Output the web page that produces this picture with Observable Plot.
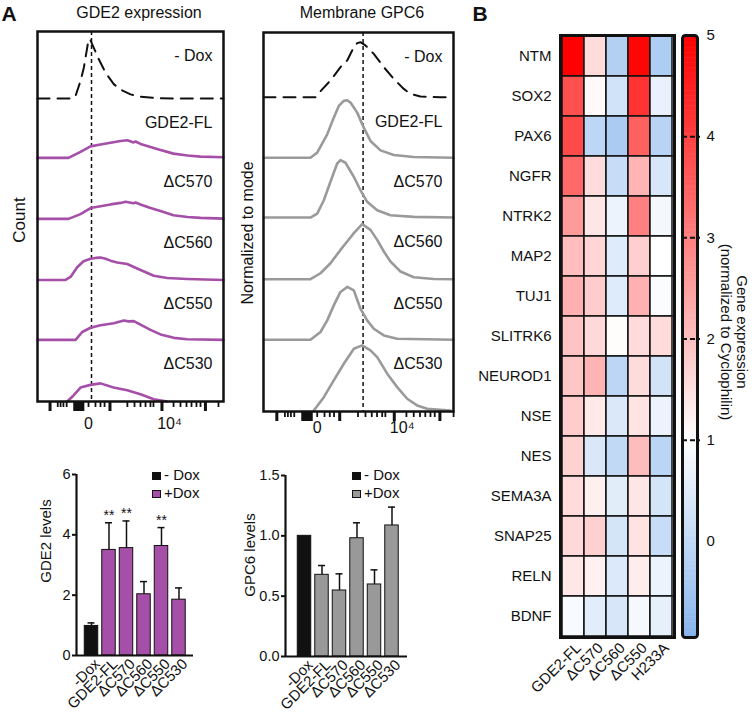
<!DOCTYPE html>
<html><head><meta charset="utf-8">
<script src="https://cdn.jsdelivr.net/npm/d3@7"></script>
<script src="https://cdn.jsdelivr.net/npm/@observablehq/plot@0.6"></script>
<style>
body{margin:0;background:#fff;font-family:"Liberation Sans",Arial,Helvetica,sans-serif;color:#111;}
#root{position:relative;width:755px;height:717px;overflow:hidden;background:#fff;}
.box{position:absolute;}
.lbl{position:absolute;white-space:nowrap;color:#111;line-height:1;}
</style></head><body><div id="root"></div>
<script>
// ---------------- DATA ----------------
const histSamples = ["- Dox", "GDE2-FL", "ΔC570", "ΔC560", "ΔC550", "ΔC530"];
// x: display units (0 = tick "0", 100 = tick "10⁴"); y: count (100 = one row)
const gde2Dox  = [[-63,0],[-19.8,0],[-16,4.5],[-9.9,29],[-5.8,51],[-0.9,90],[1.6,99],[6.5,84],[12.7,65],[21,43],[31.2,24],[39.5,15],[51.9,7],[64.2,3.3],[85.2,0.5],[166.7,0]];
const gde2FL   = [[-63,0],[-24.7,0],[-9.9,10],[2.5,19],[14.8,22],[27.2,25],[39.5,28],[48.1,29],[55.6,25.5],[58,27],[64.2,23],[76.5,18],[88.9,13],[104.9,7],[122.2,4],[138.3,2],[166.7,1]];
const gde2C570 = [[-63,0],[-24.7,0],[-9.9,8],[2.5,18],[14.8,21],[27.2,24],[39.5,26.5],[45.7,28.5],[55.6,26],[58,27],[64.2,24],[76.5,18],[88.9,13],[104.9,6],[122.2,3.3],[138.3,1.7],[166.7,0.5]];
const gde2C560 = [[-63,0],[-28.4,0],[-22.2,5],[-14,21],[-6.2,31],[2.5,35],[8.6,36.5],[14.8,37],[21,35],[27.2,32],[35.4,29],[47.8,26.5],[64.2,16.5],[80.6,7],[97.2,3.3],[121.9,1.7],[166.7,0]];
const gde2C550 = [[-63,0],[-16,0],[-7.8,13],[2.5,20],[14.8,24],[31.2,27.5],[43.6,32],[49.4,30.5],[55.9,31],[64.2,25],[76.5,16.5],[88.9,9],[105.3,3.3],[121.9,1],[166.7,0]];
const gde2C530 = [[-26.3,0],[-18.5,10],[-9.9,23],[2.5,27.5],[14.8,30],[30.9,23],[47.8,18.7],[64.2,12],[80.6,3.8],[97.2,0]];

const gpc6Dox  = [[-63.2,0],[-2,0],[3.9,10],[15.6,27.6],[27.4,49.7],[35.3,60.8],[43.1,82.8],[47.1,89.4],[50.9,91],[56.8,85.6],[66.6,71.7],[78.4,49.7],[90.1,30.3],[101.9,13.7],[109.8,5.5],[121.5,1.2],[145.1,0],[160.4,0]];
const gpc6FL   = [[-63.2,0],[-7.9,0],[0,8.3],[11.8,38.6],[19.5,66.2],[25.4,85.6],[31.3,93.9],[35.3,94.9],[39.2,91.1],[47.1,74.5],[54.8,49.7],[62.7,27.7],[74.5,12.1],[90.1,4.5],[113.6,1.2],[160.4,0]];
const gpc6C570 = [[-63.2,0],[-7.9,0],[0,6.6],[7.8,28.6],[15.6,59.1],[23.5,89.4],[27.4,94.9],[33.3,90.6],[43.1,67.4],[50.9,45.2],[58.8,26],[70.6,12.1],[86.2,3.8],[113.6,1.2],[160.4,0]];
const gpc6C560 = [[-63.2,0],[-7.9,0],[3.9,9.9],[15.6,26.5],[27.4,48.5],[35.3,62.4],[43.1,76.2],[52.9,91.1],[62.7,81.6],[70.6,65.1],[78.4,45.9],[86.2,29.3],[98,12.8],[113.6,3.3],[137.2,0.5],[160.4,0]];
const gpc6C550 = [[-63.2,0],[-7.9,0],[3.9,12.8],[11.8,32],[19.5,56.8],[27.4,79],[35.3,87.3],[43.1,81.6],[50.9,51.3],[58.8,32],[66.6,18.2],[78.4,7.1],[94.1,1.7],[160.4,0]];
const gpc6C530 = [[-4,0],[7.8,22],[19.5,49.7],[31.3,77.3],[43.1,102.2],[52.9,107.6],[62.7,99.4],[70.6,88.3],[82.4,60.8],[94.1,38.6],[105.9,19.4],[117.6,8.3],[129.4,2.8],[156.8,0]];

const gateGDE2 = 3.7;
const gateGPC6 = 54;
const histTickValues = [0, 100];
const histTickLabels = ["0", "10⁴"];
const histMajorTicks = [-47.5, -17, -14.5, -12, -9.5, -7, 26.5, 90.7, 144.4];
const histMinorTicks = [-38, -34.5, -31, -27, 0, 8.6, 14.8, 19.8, 48, 56.8, 64.2, 70.4, 76.5, 80.2, 105, 113.6, 121, 127.2, 133.3, 138.3, 160.5];

const barCategories = ["-Dox", "GDE2-FL", "ΔC570", "ΔC560", "ΔC550", "ΔC530"];
const gde2Levels = [0.98, 3.5, 3.56, 2.03, 3.63, 1.85];
const gde2Sem    = [0.1, 0.9, 0.9, 0.42, 0.61, 0.39];
const gde2Sig    = ["", "**", "**", "", "**", ""];
const gpc6Levels = [1.0, 0.677, 0.547, 0.98, 0.597, 1.086];
const gpc6Sem    = [0, 0.077, 0.138, 0.128, 0.121, 0.152];
const gpc6Sig    = ["", "", "", "", "", ""];
const gde2Ticks = [0, 2, 4, 6];
const gpc6Ticks = [0, 0.5, 1.0, 1.5];

const genes = ["NTM","SOX2","PAX6","NGFR","NTRK2","MAP2","TUJ1","SLITRK6","NEUROD1","NSE","NES","SEMA3A","SNAP25","RELN","BDNF"];
const heatSamples = ["GDE2-FL", "ΔC570", "ΔC560", "ΔC550", "H233A"];
const exprGDE2FL = [5.0, 3.75, 3.84, 3.35, 2.58, 2.04, 2.24, 1.94, 1.9, 1.8, 1.7, 1.57, 1.6, 1.38, 0.87];
const exprC570   = [1.55, 1.1, -0.07, 1.55, 1.4, 1.66, 1.8, 1.6, 2.17, 1.35, 0.38, 1.24, 1.74, 1.22, 0.53];
const exprC560   = [-0.23, 0.26, -0.34, 0.1, 0.69, 0.47, 0.47, 1.05, -0.07, 0.4, 0.0, 0.53, 0.33, 0.44, 0.36];
const exprC550   = [4.9, 4.2, 3.5, 2.16, 3.0, 1.76, 2.24, 1.56, 1.55, 1.42, 2.05, 1.4, 1.45, 1.3, 0.84];
const exprH233A  = [-0.3, 0.65, -0.15, 0.36, 0.82, 1.0, 0.93, 1.55, 0.27, 0.7, -0.1, 0.33, 0.1, 0.68, 0.6];
const colorbarTicks = [0, 1, 2, 3, 4, 5];
const colorDomain = [-0.95, 1, 5];
const colorRange = ["#86b4ec", "#ffffff", "#ff0000"];

// ---------------- LAYOUT / STYLE ----------------
const FONT = '"Liberation Sans", Arial, Helvetica, sans-serif';
const INK = "#111";
const PURPLE = "#a54fa8";
const GREY = "#9a9a9a";
const root = document.getElementById("root");
const baseStyle = {fontFamily: FONT, background: "transparent", overflow: "visible", color: INK};

function place(node, left, top, w, h) {
  const d = document.createElement("div");
  d.className = "box";
  d.style.left = left + "px"; d.style.top = top + "px";
  d.style.width = w + "px"; d.style.height = h + "px";
  d.appendChild(node); root.appendChild(d); return d;
}
function label(text, cx, cy, {size = 16, weight = "normal", rotate = 0} = {}) {
  const d = document.createElement("div");
  d.className = "lbl";
  d.textContent = text;
  d.style.left = cx + "px"; d.style.top = cy + "px";
  d.style.fontSize = size + "px"; d.style.fontWeight = weight;
  d.style.transform = `translate(-50%,-50%) rotate(${rotate}deg)`;
  root.appendChild(d); return d;
}
function legendItem(x, cy, fill, text) {
  const s = document.createElement("div");
  s.className = "box";
  s.style.left = x + "px"; s.style.top = (cy - 3.5) + "px";
  s.style.width = "7px"; s.style.height = "6px";
  s.style.background = fill; s.style.border = "1px solid " + INK;
  root.appendChild(s);
  const t = document.createElement("div");
  t.className = "lbl"; t.textContent = text;
  t.style.left = (x + 12) + "px"; t.style.top = (cy - 8) + "px"; t.style.fontSize = "15px";
  root.appendChild(t);
}

// ---------------- HISTOGRAMS ----------------
function histogram({curves, base, color, xDomain, yDomain, gate, width, height, margin, labelPad}) {
  const marks = [Plot.ruleX([gate], {stroke: INK, strokeWidth: 1.5, strokeDasharray: "4,3"})];
  curves.forEach((c, i) => {
    marks.push(Plot.line(c, {
      x: d => d[0], y: d => base[i] + d[1],
      stroke: i === 0 ? INK : color, strokeWidth: i === 0 ? 2 : 2.6,
      strokeDasharray: i === 0 ? "12,8" : null, curve: "linear"
    }));
  });
  const labelRows = histSamples.map((s, i) => ({s, y: (i === 0 ? yDomain[1] : base[i - 1]) - 40}));
  marks.push(Plot.text(labelRows, {frameAnchor: "right", y: "y", text: "s", textAnchor: "end", dx: -11, fontSize: 16, fill: INK}));
  marks.push(Plot.axisX(histTickValues, {tickSize: 0, tickPadding: labelPad, fontSize: 16,
    tickFormat: d => histTickLabels[histTickValues.indexOf(d)], label: null}));
  marks.push(Plot.frame({stroke: INK, strokeWidth: 2.5}));
  return Plot.plot({
    width, height, marginLeft: margin[3], marginRight: margin[1], marginTop: margin[0], marginBottom: margin[2],
    style: baseStyle,
    x: {domain: xDomain},
    y: {domain: yDomain, axis: null},
    marks
  });
}
// tick strip drawn just under each histogram frame, sharing its x scale
function tickStrip({xDomain, width, margin}) {
  return Plot.plot({
    width, height: 10, marginLeft: margin[3], marginRight: margin[1], marginTop: 0, marginBottom: 0,
    style: baseStyle,
    x: {domain: xDomain, axis: null},
    marks: [
      Plot.tickX(histMajorTicks, {x: d => d, stroke: INK, strokeWidth: 3}),
      Plot.tickX(histMinorTicks, {x: d => d, stroke: INK, strokeWidth: 1.8, insetBottom: 4})
    ]
  });
}

const leftHist = {xDomain: [-63, 166.7], width: 232, margin: [31, 9, 39, 37]};
const rightHist = {xDomain: [-63.2, 160.4], width: 222, margin: [32, 9, 34, 23]};

place(histogram({
  curves: [gde2Dox, gde2FL, gde2C570, gde2C560, gde2C550, gde2C530],
  base: [501, 403, 302, 201, 102, 0], color: PURPLE,
  xDomain: leftHist.xDomain, yDomain: [0, 612], gate: gateGDE2,
  width: leftHist.width, height: 440, margin: leftHist.margin, labelPad: 16
}), 0, 0, 232, 440);
place(tickStrip(leftHist), 0, 401, 232, 10);

place(histogram({
  curves: [gpc6Dox, gpc6FL, gpc6C570, gpc6C560, gpc6C550, gpc6C530],
  base: [518, 418, 319, 217, 117, 0], color: GREY,
  xDomain: rightHist.xDomain, yDomain: [-1.7, 625], gate: gateGPC6,
  width: rightHist.width, height: 445, margin: rightHist.margin, labelPad: 10
}), 240, 0, 222, 445);
place(tickStrip(rightHist), 240, 411, 222, 10);

// ---------------- BAR CHARTS ----------------
function barChart({means, sems, sig, fill, yDomain, yTicks, yFormat, xDomain, width, height, margin}) {
  const rows = barCategories.map((c, i) => ({i, c, m: means[i], e: sems[i], s: sig[i]}));
  const withErr = rows.filter(d => d.e > 0);
  return Plot.plot({
    width, height, marginLeft: margin[3], marginRight: margin[1], marginTop: margin[0], marginBottom: margin[2],
    style: baseStyle,
    x: {domain: xDomain},
    y: {domain: yDomain},
    marks: [
      Plot.ruleX(withErr, {x: "i", y1: "m", y2: d => d.m + d.e, stroke: INK, strokeWidth: 1.5}),
      Plot.ruleY(withErr, {y: d => d.m + d.e, x1: d => d.i - 0.2, x2: d => d.i + 0.2, stroke: INK, strokeWidth: 1.5}),
      Plot.rectY(rows, {x1: d => d.i - 0.385, x2: d => d.i + 0.385, y1: 0, y2: "m",
        fill: d => d.i === 0 ? INK : fill, stroke: INK, strokeWidth: 1}),
      Plot.text(rows.filter(d => d.s), {x: "i", y: d => d.m + d.e, text: "s", dy: -3, lineAnchor: "bottom", fontSize: 14, fill: INK}),
      Plot.ruleY([yDomain[0]], {stroke: INK, strokeWidth: 2.2}),
      Plot.ruleX([xDomain[0]], {stroke: INK, strokeWidth: 2.2}),
      Plot.axisY(yTicks, {tickSize: 4, tickPadding: 2, strokeWidth: 2, tickFormat: yFormat, fontSize: 14.5, label: null}),
      Plot.axisX(rows.map(d => d.i), {tickSize: 0, tickPadding: 6, tickRotate: -45, dx: 6, fontSize: 15,
        tickFormat: i => barCategories[i], label: null})
    ]
  });
}

place(barChart({
  means: gde2Levels, sems: gde2Sem, sig: gde2Sig, fill: PURPLE,
  yDomain: [0, 6], yTicks: gde2Ticks, yFormat: d3.format("d"), xDomain: [-0.857, 5.829],
  width: 200, height: 262, margin: [19, 7, 62, 76]
}), 0, 455, 200, 262);

place(barChart({
  means: gpc6Levels, sems: gpc6Sem, sig: gpc6Sig, fill: "#999999",
  yDomain: [0, 1.5], yTicks: gpc6Ticks, yFormat: d3.format(".1f"), xDomain: [-1.086, 5.886],
  width: 180, height: 262, margin: [20, 13, 61, 45]
}), 240, 455, 180, 262);

// ---------------- HEATMAP ----------------
const exprBySample = [exprGDE2FL, exprC570, exprC560, exprC550, exprH233A];
const cells = genes.flatMap((g, gi) => heatSamples.map((s, si) => ({gene: g, sample: s, value: exprBySample[si][gi]})));
const colorOpts = {type: "linear", domain: colorDomain, range: colorRange, interpolate: "rgb"};

place(Plot.plot({
  width: 285, height: 717, marginLeft: 90, marginRight: 81, marginTop: 35, marginBottom: 80,
  style: baseStyle,
  x: {domain: heatSamples, padding: 0, label: null},
  y: {domain: genes, padding: 0, label: null},
  color: colorOpts,
  marks: [
    Plot.cell(cells, {x: "sample", y: "gene", fill: "value", stroke: INK, strokeWidth: 1.5}),
    Plot.frame({stroke: INK, strokeWidth: 3}),
    Plot.axisY({tickSize: 0, tickPadding: 9, fontSize: 15, label: null}),
    Plot.axisX({tickSize: 0, tickPadding: 8, tickRotate: -45, dx: 5, fontSize: 15, label: null})
  ]
}), 470, 0, 285, 717);

// colour bar
const colorbarSteps = d3.range(colorDomain[0], colorDomain[2], 0.025);
place(Plot.plot({
  width: 85, height: 717, marginLeft: 12, marginRight: 58, marginTop: 35, marginBottom: 80,
  style: baseStyle,
  x: {domain: [0, 1], axis: null},
  y: {domain: [colorDomain[0], colorDomain[2]]},
  color: colorOpts,
  marks: [
    Plot.rect(colorbarSteps, {x1: 0, x2: 1, y1: d => d, y2: d => Math.min(colorDomain[2], d + 0.03), fill: d => d + 0.0125}),
    Plot.ruleY(colorbarTicks.filter(t => t > 0 && t < 5), {x1: 0, x2: 1.2, stroke: INK, strokeWidth: 2, strokeDasharray: "5,3"}),
    Plot.frame({stroke: INK, strokeWidth: 3, rx: 3}),
    Plot.axisY(colorbarTicks, {anchor: "right", tickSize: 0, tickPadding: 9, fontSize: 15, tickFormat: d3.format("d"), label: null})
  ]
}), 670, 0, 85, 717);

// ---------------- TEXT ----------------
label("A", 9, 13, {size: 21, weight: "bold"});
label("B", 480, 13, {size: 21, weight: "bold"});
label("GDE2 expression", 139, 13, {size: 16});
label("Membrane GPC6", 362, 13, {size: 16});
label("Count", 18.5, 220, {size: 17, rotate: -90});
label("Normalized to mode", 248, 233, {size: 16, rotate: -90});
label("GDE2 levels", 45, 541, {size: 15, rotate: -90});
label("GPC6 levels", 249, 555, {size: 15, rotate: -90});
label("Gene expression", 742, 332, {size: 15, rotate: 90});
label("(normalized to Cyclophilin)", 726, 332, {size: 15, rotate: 90});

legendItem(152, 475, INK, "- Dox");
legendItem(152, 493, PURPLE, "+Dox");
legendItem(352, 475, INK, "- Dox");
legendItem(352, 493, "#999999", "+Dox");
</script></body></html>
